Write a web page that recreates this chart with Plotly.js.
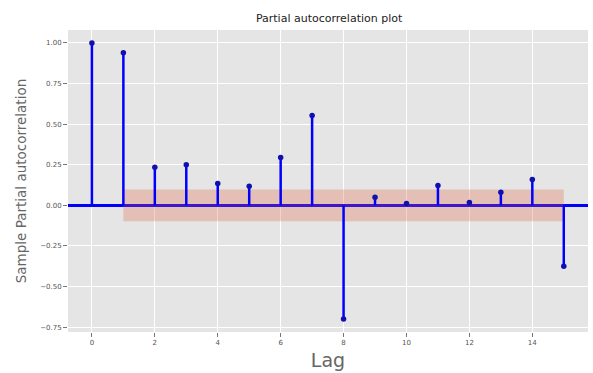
<!DOCTYPE html>
<html>
<head>
<meta charset="utf-8">
<script src="https://cdn.plot.ly/plotly-3.0.1.min.js"></script>
<style>html,body{margin:0;padding:0;background:#fff;}#chart{width:593px;height:373px;}</style>
</head>
<body>
<div id="chart"></div>
<script>
const lags = [0,1,2,3,4,5,6,7,8,9,10,11,12,13,14,15];
const pacf = [1.00,0.94,0.234,0.25,0.135,0.117,0.295,0.553,-0.70,0.05,0.012,0.123,0.018,0.08,0.16,-0.375];
const confLags = [1,2,3,4,5,6,7,8,9,10,11,12,13,14,15];
const confHalf = [0.098,0.098,0.098,0.098,0.098,0.098,0.098,0.098,0.098,0.098,0.098,0.098,0.098,0.098,0.098];

const stemX = [], stemY = [];
lags.forEach((l,i)=>{ stemX.push(l,l,null); stemY.push(0,pacf[i],null); });

const bandX = confLags.concat(confLags.slice().reverse());
const bandY = confHalf.map(v=>v).concat(confHalf.slice().reverse().map(v=>-v));

const traces = [
  {x: bandX, y: bandY, type:'scatter', mode:'lines', fill:'toself',
   fillcolor:'rgba(226,90,51,0.27)', line:{width:0}, hoverinfo:'skip', showlegend:false},
  {x: stemX, y: stemY, type:'scatter', mode:'lines', line:{color:'#0000ff', width:2.5}, showlegend:false},
  {x: lags, y: pacf, type:'scatter', mode:'markers', marker:{color:'#1010b0', size:5.5}, showlegend:false}
];

const tickFont = {family:'DejaVu Sans', size:7, color:'#555'};
const layout = {
  width:593, height:373,
  margin:{l:68, r:5, t:30, b:41},
  paper_bgcolor:'#fff', plot_bgcolor:'#E5E5E5',
  title:{text:'Partial autocorrelation plot', font:{family:'DejaVu Sans', size:11, color:'#222'}, x:0.555, xanchor:'center', y:0.952, yanchor:'middle'},
  xaxis:{range:[-0.76,15.77], tickvals:[0,2,4,6,8,10,12,14], ticks:'outside', ticklen:4, tickcolor:'#777',
    gridcolor:'#fff', gridwidth:1, zeroline:false, showline:false, tickfont:tickFont,
    title:{text:'Lag', font:{family:'DejaVu Sans', size:19, color:'#666'}, standoff:7}},
  yaxis:{range:[-0.78,1.08], tickvals:[-0.75,-0.5,-0.25,0,0.25,0.5,0.75,1.0],
    ticktext:['\u22120.75','\u22120.50','\u22120.25','0.00','0.25','0.50','0.75','1.00'],
    ticks:'outside', ticklen:4, tickcolor:'#777',
    gridcolor:'#fff', gridwidth:1, zeroline:true, zerolinecolor:'#0000ff', zerolinewidth:2.5,
    showline:false, tickfont:tickFont,
    title:{text:'Sample Partial autocorrelation', font:{family:'DejaVu Sans', size:13.5, color:'#666'}, standoff:10}},
  showlegend:false
};
Plotly.newPlot('chart', traces, layout, {displayModeBar:false, staticPlot:true});
</script>
</body>
</html>
